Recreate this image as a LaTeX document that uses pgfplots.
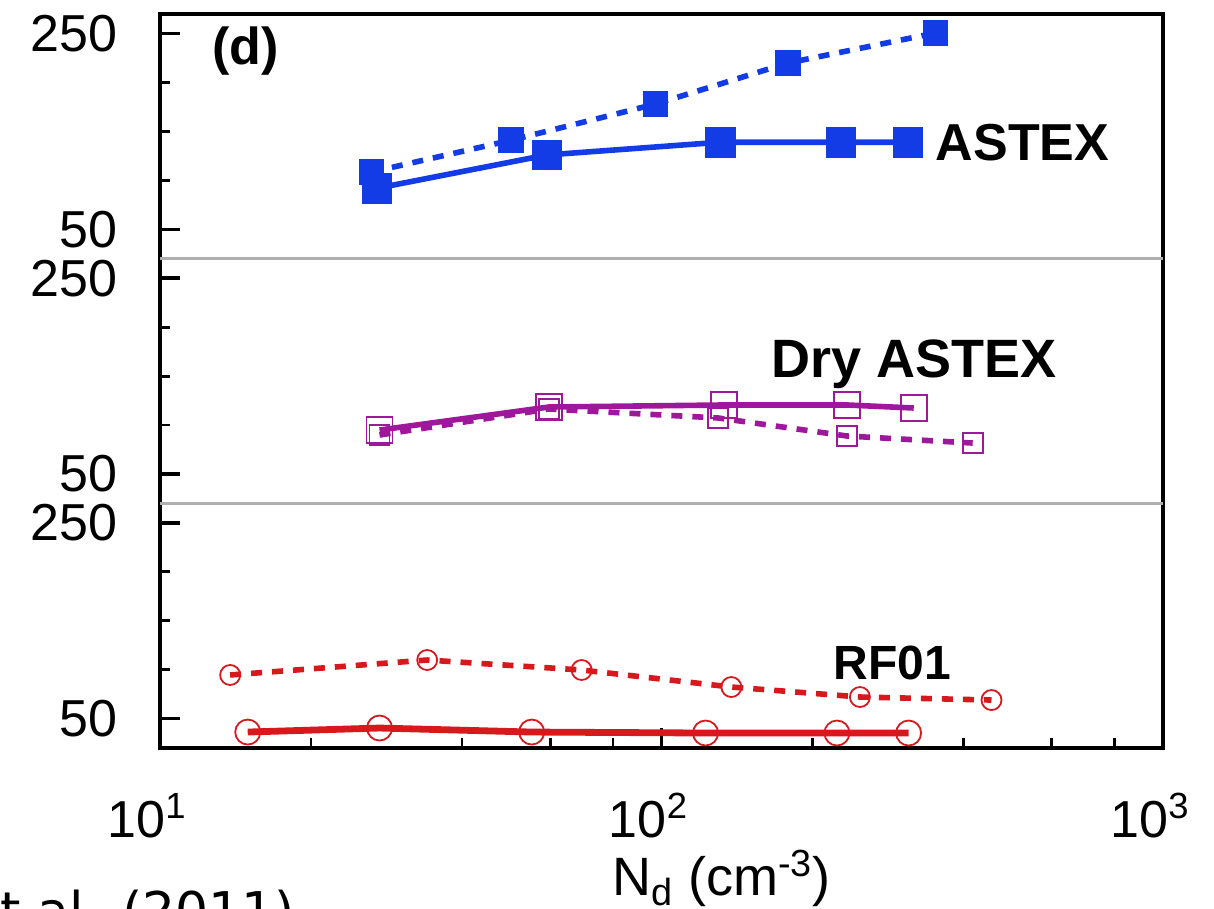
\documentclass[border=0pt]{standalone}
\usepackage{fontspec}
\setmainfont{Liberation Sans}
\newfontfamily\slidefont{DejaVu Sans}
\usepackage{pgfplots}
\pgfplotsset{compat=1.18}

\definecolor{astex}{RGB}{20,60,230}
\definecolor{dryastex}{RGB}{158,24,156}
\definecolor{rfred}{RGB}{215,25,30}
\definecolor{sepgray}{RGB}{175,175,175}

% three stacked panels share one axis: values are shifted by 0, 250, 500
\pgfplotsset{
  panel top/.style={y filter/.expression={y+500}},
  panel mid/.style={y filter/.expression={y+250}},
  dashline/.style={dash pattern=on 5.5pt off 5pt, line width=2.8pt},
  solidline/.style={line width=2.8pt},
}

\begin{document}
\begin{tikzpicture}
\begin{axis}[
  at={(0,0)}, anchor=south west,
  scale only axis, width=501.5pt, height=367pt,
  xmode=log, xmin=10, xmax=1000,
  ymin=20, ymax=770,
  xtick={10,100,1000},
  xticklabels={10\textsuperscript{1},10\textsuperscript{2},10\textsuperscript{3}},
  minor xtick={20,40,60,80,200,400,600,800},
  ytick={50,250,300,500,550,750},
  yticklabels={50,250,50,250,50,250},
  minor ytick={100,150,200,350,400,450,600,650,700},
  xtick pos=bottom, ytick pos=left,
  tick align=inside,
  major tick length=10pt, minor tick length=5pt,
  every tick/.style={black, line width=1.8pt},
  every minor tick/.style={black, line width=1.4pt},
  axis line style={line width=2.4pt},
  ticklabel style={font=\fontsize{26}{30}\selectfont},
  xticklabel style={anchor=base, yshift=-44.5pt, xshift=-6.5pt},
  yticklabel style={anchor=east, inner sep=0pt, xshift=-21pt},
  xlabel={N\textsubscript{d} (cm\textsuperscript{-3})},
  xlabel style={at={(axis description cs:0.4506,0)}, anchor=base west,
    yshift=-73.5pt, inner sep=0pt, font=\fontsize{27}{31}\selectfont},
]

% panel separators
\addplot[sepgray, line width=1.5pt] coordinates {(10,270) (1000,270)};
\addplot[sepgray, line width=1.5pt] coordinates {(10,520) (1000,520)};

% ASTEX
\addplot[panel top, astex, dashline, mark=square*, mark size=5pt,
  mark options={solid, fill=astex}] coordinates {
  (26.4,108.5) (50.1,141) (97.3,178) (178.8,220) (352,250.6)
};
\addplot[panel top, astex, solidline, mark=square*, mark size=6.25pt,
  mark options={solid, fill=astex}] coordinates {
  (27.1,92) (59.1,126) (131,139) (228,139) (310,139)
};

% Dry ASTEX
\addplot[panel mid, dryastex, dashline, mark=square, mark size=5pt,
  mark options={solid, line width=0.9pt}] coordinates {
  (27.4,89.8) (59.6,116.4) (129.8,107.2) (234.3,88.8) (417.3,81.6)
};
\addplot[panel mid, dryastex, solidline, mark=square, mark size=6.5pt,
  mark options={solid, line width=0.9pt}] coordinates {
  (27.4,94.9) (59.6,118.4) (133.3,120.5) (234.3,120.5) (318.4,117.4)
};

% RF01
\addplot[rfred, dashline, mark=o, mark size=5pt,
  mark options={solid, line width=0.9pt}] coordinates {
  (13.8,94.6) (34.1,109.9) (69.3,99.7) (137.8,82.3) (248.7,72.1) (455,69.0)
};
\addplot[rfred, line width=3.4pt, mark=o, mark size=6.25pt,
  mark options={solid, line width=0.9pt}] coordinates {
  (14.96,36.3) (27.4,40.4) (55.1,36.3) (122.4,35.3) (223.8,35.3) (311,35.3)
};

\node[anchor=base west, inner sep=0pt, font=\bfseries\fontsize{26}{30}\selectfont]
  at (axis cs:12.7,718) {(d)};
\node[anchor=base west, inner sep=0pt, font=\bfseries\fontsize{26}{30}\selectfont]
  at (axis cs:352,620.8) {ASTEX};
\node[anchor=base west, inner sep=0pt, font=\bfseries\fontsize{27}{31}\selectfont]
  at (axis cs:165.4,399) {Dry ASTEX};
\node[anchor=base west, inner sep=0pt, font=\bfseries\fontsize{24}{28}\selectfont]
  at (axis cs:219.8,89.5) {RF01};
\end{axis}

% caption of the slide, cut by the lower edge
\node[anchor=base west, inner sep=0pt, font=\slidefont\fontsize{26}{30}\selectfont]
  at (-96pt,-90.75pt) {et al. (2011)};

\pgfresetboundingbox
\useasboundingbox (-80pt,-80.5pt) rectangle (527pt,374pt);
\end{tikzpicture}
\end{document}
